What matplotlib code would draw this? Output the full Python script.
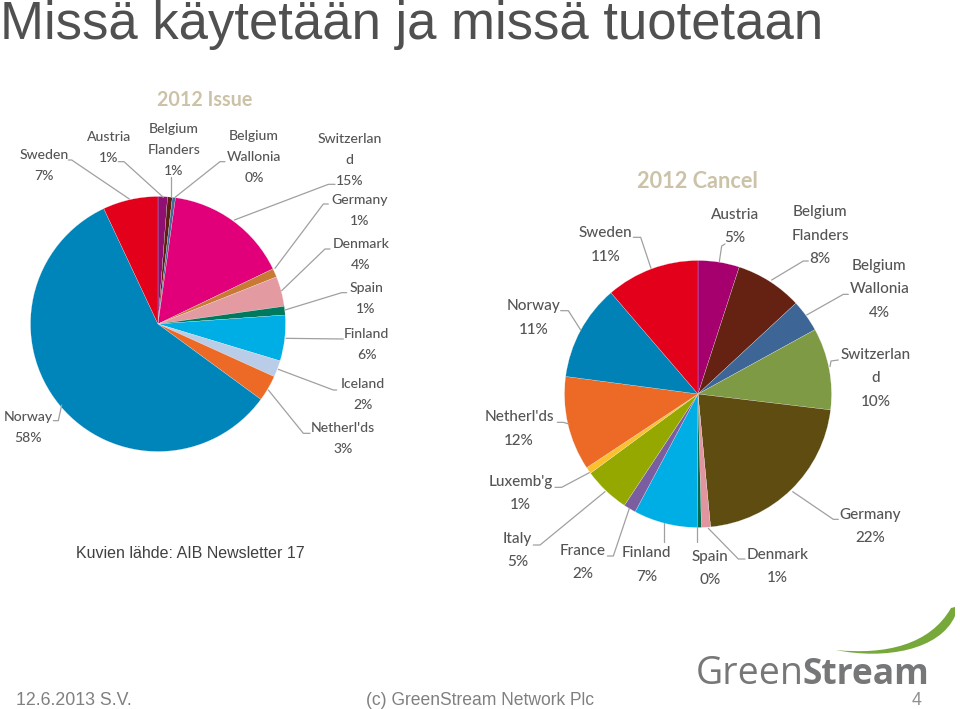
import matplotlib
matplotlib.use('Agg')
import matplotlib.pyplot as plt
from matplotlib.path import Path
from matplotlib.patches import PathPatch

W, H = 960, 709

# 2012 Issue, clockwise from the top
issue_names = ['Austria', 'Belgium\nFlanders', 'Belgium\nWallonia', 'Switzerlan\nd', 'Germany', 'Denmark',
               'Spain', 'Finland', 'Iceland', "Netherl'ds", 'Norway', 'Sweden']
issue_pct = ['1%', '1%', '0%', '15%', '1%', '4%', '1%', '6%', '2%', '3%', '58%', '7%']
issue_values = [1.2, 0.6, 0.4, 15.7, 1.1, 3.8, 1.1, 5.8, 2.1, 3.3, 58.0, 7.0]
issue_colors = ['#8f0f72', '#5e1f10', '#446a9a', '#e2007a', '#c87a35', '#e39aa0',
                '#007a5e', '#00aee6', '#b9cde8', '#ec6a25', '#0085ba', '#e2001a']

# 2012 Cancel, clockwise from the top
cancel_names = ['Austria', 'Belgium\nFlanders', 'Belgium\nWallonia', 'Switzerlan\nd', 'Germany', 'Denmark',
                'Spain', 'Finland', 'France', 'Italy', "Luxemb'g", "Netherl'ds", 'Norway', 'Sweden']
cancel_pct = ['5%', '8%', '4%', '10%', '22%', '1%', '0%', '7%', '2%', '5%', '1%', '12%', '11%', '11%']
cancel_values = [5.0, 8.1, 3.9, 9.9, 21.6, 1.1, 0.5, 7.7, 1.5, 5.6, 0.8, 11.4, 11.6, 11.3]
cancel_colors = ['#a6006f', '#652112', '#3d6596', '#7f9a45', '#5e4c10', '#e0959f',
                 '#006a50', '#00aee6', '#7b5ea0', '#94a800', '#fbc02d', '#ec6a25', '#0082b6', '#e2001a']

# label anchors and leader lines, in zoomed crop coordinates (3x)
issue_label_pos = [(327, 172), (522, 148), (762, 168), (1048, 177), (1078, 360), (1083, 491),
                   (1098, 624), (1100, 762), (1090, 912), (1030, 1043), (85, 1010), (132, 226)]
issue_leaders = [
    [(355, 245), (372, 245), (490, 352)], [(512, 290), (512, 352)], [(675, 245), (660, 245), (525, 352)],
    [(1005, 313), (985, 313), (703, 420)], [(985, 372), (970, 372), (825, 565)],
    [(990, 507), (975, 507), (845, 632)], [(1040, 638), (1025, 638), (855, 690)],
    [(1030, 777), (858, 775)], [(1010, 930), (1000, 930), (835, 868)],
    [(930, 1060), (910, 1060), (805, 930)], [(160, 1022), (175, 1022), (185, 975)],
    [(205, 240), (215, 240), (388, 357)],
]
cancel_label_pos = [(794, 165), (1050, 157), (1228, 317), (1217, 584), (1200, 1065), (922, 1185),
                    (720, 1190), (530, 1180), (338, 1172), (143, 1137), (152, 965), (147, 772),
                    (192, 438), (407, 220)]
cancel_leaders = [
    [(765, 252), (755, 258), (748, 305)], [(1015, 303), (1000, 303), (905, 360)],
    [(1135, 403), (1120, 403), (1010, 465)], [(1105, 600), (1083, 603), (1080, 620)],
    [(1105, 1078), (1090, 1078), (968, 995)], [(825, 1197), (805, 1197), (715, 1105)],
    [(681, 1145), (681, 1102)], [(583, 1145), (583, 1090)], [(412, 1188), (430, 1188), (478, 1045)],
    [(190, 1155), (210, 1155), (405, 995)], [(255, 982), (275, 982), (358, 938)],
    [(262, 787), (280, 787), (297, 792)], [(272, 452), (295, 452), (332, 510)],
    [(490, 232), (512, 232), (543, 325)],
]

LABEL_FONT = 'Lato'
LABEL_COLOR = '#555555'
LEADER_COLOR = '#a0a0a0'
TITLE_COLOR = '#cbc2a8'

fig = plt.figure(figsize=(W / 100, H / 100), dpi=100, facecolor='white')
ax = fig.add_axes([0, 0, 1, 1])


def draw_pie(values, colors, names, pct, label_pos, leaders, ox, oy, center, radius, step, size):
    ax.pie(values, colors=colors, startangle=90, counterclock=False, radius=radius,
           center=(center[0], H - center[1]), frame=True,
           wedgeprops={'linewidth': 0.15, 'edgecolor': '#f4f4f4'})
    for line in leaders:
        xs = [ox + p[0] / 3 for p in line]
        ys = [H - (oy + p[1] / 3) for p in line]
        ax.plot(xs, ys, color=LEADER_COLOR, lw=0.9, solid_capstyle='round')
    for name, p, pos in zip(names, pct, label_pos):
        lines = name.split('\n') + [p]
        for i, txt in enumerate(lines):
            ax.text(ox + pos[0] / 3, H - (oy + pos[1] / 3 + i * step), txt, ha='center', va='center',
                    fontsize=size, family=LABEL_FONT, color=LABEL_COLOR, weight='medium')


draw_pie(issue_values, issue_colors, issue_names, issue_pct, issue_label_pos, issue_leaders,
         0, 80, (158, 324), 127.5, 21, 10.1)
draw_pie(cancel_values, cancel_colors, cancel_names, cancel_pct, cancel_label_pos, cancel_leaders,
         470, 160, (698, 394), 133.5, 23.5, 11.0)

ax.set_xlim(0, W)
ax.set_ylim(0, H)
ax.set_aspect('auto')
ax.axis('off')

ax.text(205, H - 100, '2012 Issue', ha='center', va='center', fontsize=14.2, family='Lato',
        weight='bold', color=TITLE_COLOR)
ax.text(697, H - 182, '2012 Cancel', ha='center', va='center', fontsize=15.7, family='Lato',
        weight='bold', color=TITLE_COLOR)

# slide header and footer
ax.text(0, H - 38.5, 'Missä käytetään ja missä tuotetaan', ha='left', va='baseline', fontsize=37.9,
        family='Liberation Sans', color='#505050')
ax.text(76, H - 554, 'Kuvien lähde: AIB Newsletter 17', ha='left', va='center', fontsize=11.5,
        family='Liberation Sans', color='#404040')
ax.text(16, H - 705, '12.6.2013 S.V.', ha='left', va='baseline', fontsize=12.8,
        family='Liberation Sans', color='#808080')
ax.text(366, H - 705, '(c) GreenStream Network Plc', ha='left', va='baseline', fontsize=12.65,
        family='Liberation Sans', color='#808080')
ax.text(917, H - 705, '4', ha='center', va='baseline', fontsize=12.8, family='Liberation Sans', color='#909090')

# logo
ax.text(696, H - 684, 'Green', ha='left', va='baseline', fontsize=27, family='Open Sans',
        weight='medium', color='#757779')
ax.text(802, H - 684, 'Stream', ha='left', va='baseline', fontsize=25.5, family='Open Sans',
        weight='bold', color='#757779')
swoosh = Path([(836, H - 650), (885, H - 655), (930, H - 645), (951, H - 608),
               (955, H - 607), (955, H - 607), (955, H - 616),
               (940, H - 650), (885, H - 660), (836, H - 650), (836, H - 650)],
              [Path.MOVETO, Path.CURVE4, Path.CURVE4, Path.CURVE4,
               Path.LINETO, Path.LINETO, Path.LINETO,
               Path.CURVE4, Path.CURVE4, Path.CURVE4, Path.CLOSEPOLY])
ax.add_patch(PathPatch(swoosh, facecolor='#76a83a', edgecolor='none'))

fig.savefig('out.png', dpi=100)
